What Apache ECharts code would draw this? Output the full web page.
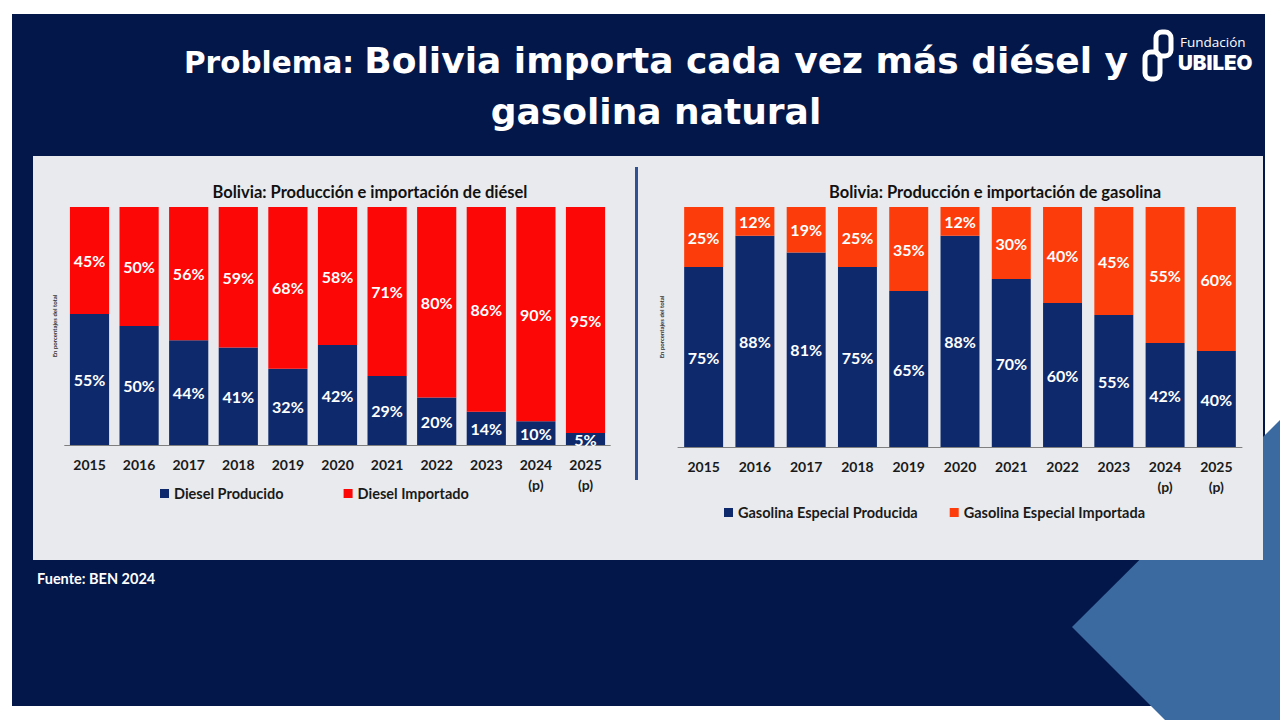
<!DOCTYPE html>
<html>
<head>
<meta charset="utf-8">
<script src="https://cdn.jsdelivr.net/npm/echarts@6/dist/echarts.min.js"></script>
<style>
html,body{margin:0;padding:0;background:#ffffff;width:1280px;height:720px;overflow:hidden;}
#slide{position:absolute;left:12px;top:14px;width:1253px;height:692px;background:#03174a;}
#deco{position:absolute;left:0;top:0;}
#panel{position:absolute;left:33px;top:156px;width:1230px;height:404px;background:#e8eaee;}
#divider{position:absolute;left:635px;top:167px;width:3px;height:313px;background:#2f5294;}
#chart{position:absolute;left:0;top:0;width:1280px;height:720px;}
</style>
</head>
<body>
<div id="slide"></div>
<svg id="deco" width="1280" height="720"><polygon points="1280,420 1072,627 1165,720 1280,720" fill="#3a6a9f"/></svg>
<div id="panel"></div>
<div id="divider"></div>
<div id="chart"></div>
<script>
const years = ['2015','2016','2017','2018','2019','2020','2021','2022','2023','2024\n(p)','2025\n(p)'];
const dieselProducido = [55,50,44,41,32,42,29,20,14,10,5];
const dieselImportado = [45,50,56,59,68,58,71,80,86,90,95];
const gasolinaProducida = [75,88,81,75,65,88,70,60,55,42,40];
const gasolinaImportada = [25,12,19,25,35,12,30,40,45,55,60];

const NAVY = '#0f2a6c', RED = '#fd0606', ORANGE = '#fc3d0b';
const FONT = 'Lato, "Open Sans", sans-serif';
const TFONT = '"DejaVu Sans", Inter, sans-serif';

function shares(a, b) {
  return a.map((v, i) => ({ value: v / (a[i] + b[i]) * 100 }));
}
function barSeries(name, arr, other, color, idx, stack, gap) {
  return {
    name: name, type: 'bar', stack: stack, xAxisIndex: idx, yAxisIndex: idx,
    barCategoryGap: gap, itemStyle: { color: color },
    data: shares(arr, other),
    label: {
      show: true, position: 'inside', color: '#ffffff', fontFamily: FONT,
      fontWeight: 'bold', fontSize: 16,
      formatter: p => arr[p.dataIndex] + '%'
    }
  };
}
function xAx(gridIndex) {
  return {
    type: 'category', gridIndex: gridIndex, data: years,
    axisTick: { show: false },
    axisLine: { lineStyle: { color: '#7f7f7f', width: 1 } },
    axisLabel: { color: '#1a1a1a', fontFamily: FONT, fontWeight: 'bold', fontSize: 14, margin: 9, lineHeight: 20, interval: 0 }
  };
}
function yAx(gridIndex, gap) {
  return {
    type: 'value', gridIndex: gridIndex, min: 0, max: 100,
    name: 'En porcentajes del total', nameLocation: 'middle', nameGap: gap,
    nameTextStyle: { fontSize: 6, color: '#333', fontFamily: FONT, fontWeight: 'bold' },
    axisLabel: { show: false }, splitLine: { show: false }, axisLine: { show: false }, axisTick: { show: false }
  };
}

const chart = echarts.init(document.getElementById('chart'), null, { renderer: 'svg' });
chart.setOption({
  animation: false,
  backgroundColor: 'transparent',
  title: [
    {
      text: '{a|Problema: }{b|Bolivia importa cada vez más diésel y}\n{b|gasolina natural}',
      left: 651, top: 22, textAlign: 'center',
      textStyle: {
        rich: {
          a: { fontFamily: TFONT, fontWeight: 'bold', fontSize: 29.5, color: '#ffffff', verticalAlign: 'bottom' },
          b: { fontFamily: TFONT, fontWeight: 'bold', fontSize: 36, color: '#ffffff', lineHeight: 51, verticalAlign: 'bottom' }
        }
      }
    },
    { text: 'Bolivia: Producción e importación de diésel', left: 365, top: 178, textAlign: 'center',
      textStyle: { fontFamily: FONT, fontWeight: 'bold', fontSize: 16.5, color: '#111' } },
    { text: 'Bolivia: Producción e importación de gasolina', left: 990, top: 178, textAlign: 'center',
      textStyle: { fontFamily: FONT, fontWeight: 'bold', fontSize: 16.5, color: '#111' } },
    { text: 'Fuente: BEN 2024', left: 32, top: 566,
      textStyle: { fontFamily: FONT, fontWeight: 'bold', fontSize: 14.5, color: '#ffffff' } },
    { text: 'Fundación', left: 1175, top: 30,
      textStyle: { fontFamily: '"Open Sans", sans-serif', fontWeight: 'normal', fontSize: 13.5, color: '#ffffff', lineHeight: 14 } },
    { text: 'UBILEO', left: 1173, top: 48,
      textStyle: { fontFamily: 'Inter, sans-serif', fontWeight: 900, fontSize: 20.5, color: '#ffffff', lineHeight: 19 } }
  ],
  graphic: [
    { type: 'rect', shape: { x: 1156, y: 32, width: 15, height: 24, r: 6 }, style: { fill: 'none', stroke: '#ffffff', lineWidth: 5 } },
    { type: 'rect', shape: { x: 1145, y: 52, width: 15, height: 27, r: 6 }, style: { fill: 'none', stroke: '#ffffff', lineWidth: 5 } }
  ],
  legend: [
    { data: ['Diesel Producido', 'Diesel Importado'], left: 155, top: 481, itemWidth: 9, itemHeight: 9, itemGap: 60, icon: 'rect',
      textStyle: { fontFamily: FONT, fontWeight: 'bold', fontSize: 14.5, color: '#1a1a1a' } },
    { data: ['Gasolina Especial Producida', 'Gasolina Especial Importada'], left: 719, top: 500, itemWidth: 9, itemHeight: 9, itemGap: 32, icon: 'rect',
      textStyle: { fontFamily: FONT, fontWeight: 'bold', fontSize: 14.5, color: '#1a1a1a' } }
  ],
  grid: [
    { left: 64.7, right: 1280 - 610.3, top: 207, bottom: 720 - 445 },
    { left: 678, right: 1280 - 1242, top: 207, bottom: 720 - 447 }
  ],
  xAxis: [xAx(0), xAx(1)],
  yAxis: [yAx(0, 7), yAx(1, 14)],
  series: [
    barSeries('Diesel Producido', dieselProducido, dieselImportado, NAVY, 0, 'd', '21%'),
    barSeries('Diesel Importado', dieselImportado, dieselProducido, RED, 0, 'd', '21%'),
    barSeries('Gasolina Especial Producida', gasolinaProducida, gasolinaImportada, NAVY, 1, 'g', '24%'),
    barSeries('Gasolina Especial Importada', gasolinaImportada, gasolinaProducida, ORANGE, 1, 'g', '24%')
  ]
});
</script>
</body>
</html>
